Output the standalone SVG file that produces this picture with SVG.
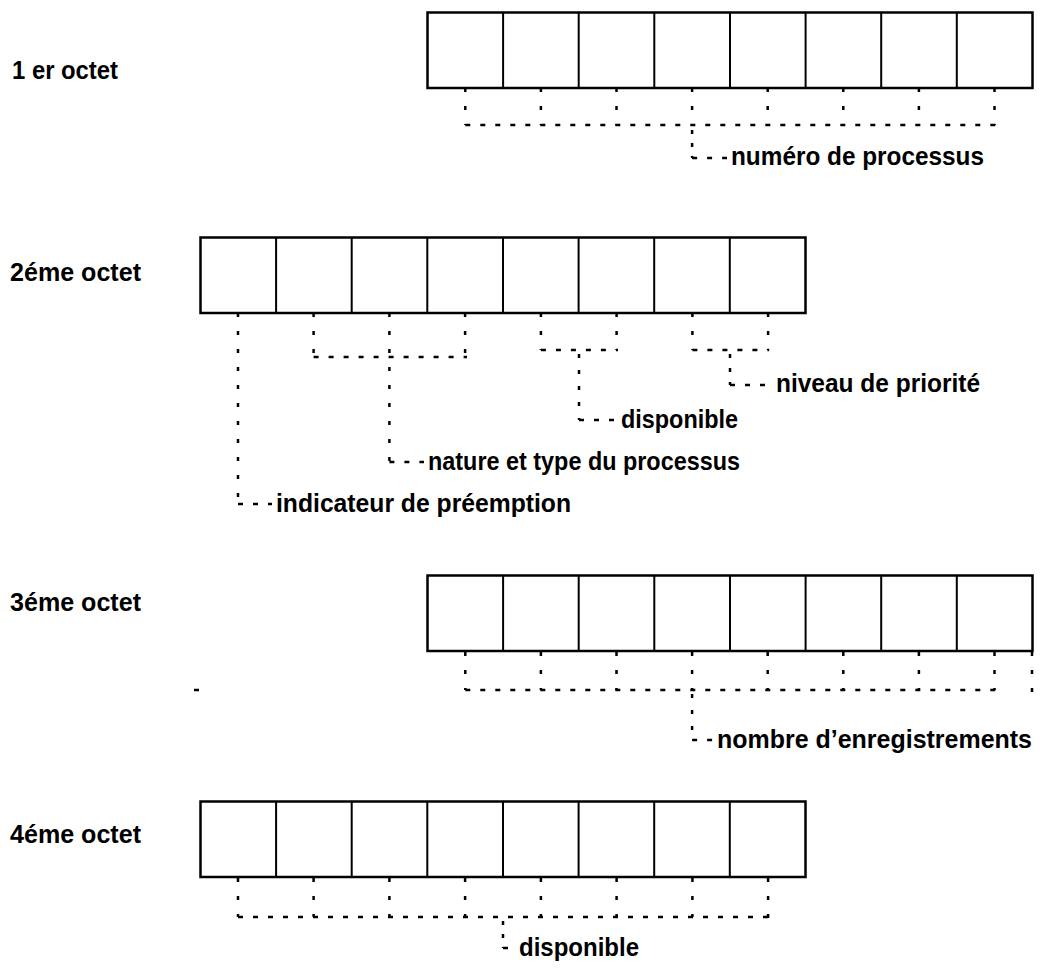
<svg xmlns="http://www.w3.org/2000/svg" width="1043" height="970" viewBox="0 0 1043 970">
<defs>
<style>
.bg{fill:#ffffff}
.box{fill:#ffffff;stroke:#000000;stroke-width:2.5}
.div{stroke:#000000;stroke-width:2;fill:none}
.v{stroke:#000000;stroke-width:2.5;fill:none;stroke-dasharray:4 14}
.h{stroke:#000000;stroke-width:2.5;fill:none;stroke-dasharray:5 10}
.lbl{font-family:"Liberation Sans",Arial,Helvetica,sans-serif;font-weight:bold;font-size:26px;fill:#000000}
</style>
<g id="cells">
<rect class="box" x="0" y="0" width="605" height="75.5"/>
<path class="div" d="M75.6 0V75.5M151.2 0V75.5M226.8 0V75.5M302.5 0V75.5M378.1 0V75.5M453.7 0V75.5M529.3 0V75.5"/>
</g>
</defs>
<rect class="bg" x="0" y="0" width="1043" height="970"/>

<g id="octet1">
<text class="lbl" x="12" y="79" textLength="106" lengthAdjust="spacingAndGlyphs">1 er octet</text>
<use href="#cells" x="427.5" y="12.5"/>
</g>
<g id="octet2">
<text class="lbl" x="10" y="281" textLength="131" lengthAdjust="spacingAndGlyphs">2éme octet</text>
<use href="#cells" x="200.5" y="237.5"/>
</g>
<g id="octet3">
<text class="lbl" x="10" y="611" textLength="131" lengthAdjust="spacingAndGlyphs">3éme octet</text>
<use href="#cells" x="427.5" y="575.5"/>
</g>
<g id="octet4">
<text class="lbl" x="10" y="843" textLength="131" lengthAdjust="spacingAndGlyphs">4éme octet</text>
<use href="#cells" x="200.5" y="801.5"/>
</g>

<g id="label-numero">
<text class="lbl" x="731" y="165" textLength="253" lengthAdjust="spacingAndGlyphs">numéro de processus</text>
</g>
<g id="label-niveau">
<text class="lbl" x="776" y="392" textLength="204" lengthAdjust="spacingAndGlyphs">niveau de priorité</text>
</g>
<g id="label-disponible2">
<text class="lbl" x="621" y="428" textLength="117" lengthAdjust="spacingAndGlyphs">disponible</text>
</g>
<g id="label-nature">
<text class="lbl" x="428" y="470" textLength="312" lengthAdjust="spacingAndGlyphs">nature et type du processus</text>
</g>
<g id="label-indicateur">
<text class="lbl" x="276" y="512" textLength="295" lengthAdjust="spacingAndGlyphs">indicateur de préemption</text>
</g>
<g id="label-nombre">
<text class="lbl" x="717" y="748" textLength="315" lengthAdjust="spacingAndGlyphs">nombre d’enregistrements</text>
</g>
<g id="label-disponible4">
<text class="lbl" x="519" y="956" textLength="120" lengthAdjust="spacingAndGlyphs">disponible</text>
</g>

<g id="connectors">
<!-- octet 1 -->
<path class="v" d="M465.3 88V125M540.9 88V125M616.5 88V125M692.1 88V125M767.7 88V125M843.3 88V125M918.9 88V125M994.5 88V125"/>
<path class="h" d="M465.3 125H996"/>
<path class="v" d="M692.1 130V158" style="stroke-dasharray:4 9"/>
<path class="h" d="M692.1 158H727"/>
<!-- octet 2 -->
<path class="v" d="M238 313V504"/>
<path class="h" d="M238 504H272"/>
<path class="v" d="M313.6 313V357M465.1 313V357"/>
<path class="h" d="M313.6 357H467"/>
<path class="v" d="M389.4 313V462"/>
<path class="h" d="M389.4 462H424"/>
<path class="v" d="M540.9 313V350M616.6 313V350"/>
<path class="h" d="M540.9 350H618"/>
<path class="v" d="M579 354V420" style="stroke-dasharray:4 12"/>
<path class="h" d="M579 420H622"/>
<path class="v" d="M692.4 313V350M768.1 313V350"/>
<path class="h" d="M692.4 350H769"/>
<path class="v" d="M730 354V385" style="stroke-dasharray:4 10"/>
<path class="h" d="M730 385H770"/>
<!-- octet 3 -->
<path class="v" d="M465.3 652V690M540.9 652V690M616.5 652V690M692.1 652V690M767.7 652V690M843.3 652V690M918.9 652V690M994.5 652V690M1032 652V692"/>
<path class="h" d="M465.3 690H996"/>
<path class="h" d="M194 690H201"/>
<path class="v" d="M692.1 694V740" style="stroke-dasharray:4 12"/>
<path class="h" d="M692.1 740H713"/>
<!-- octet 4 -->
<path class="v" d="M238 878V917M313.6 878V917M389.4 878V917M465.1 878V917M540.9 878V917M616.6 878V917M692.4 878V917M768.1 878V922"/>
<path class="h" d="M238 917H768"/>
<path class="v" d="M503 921V948" style="stroke-dasharray:4 9"/>
<path class="h" d="M503 948H518"/>
</g>
</svg>
